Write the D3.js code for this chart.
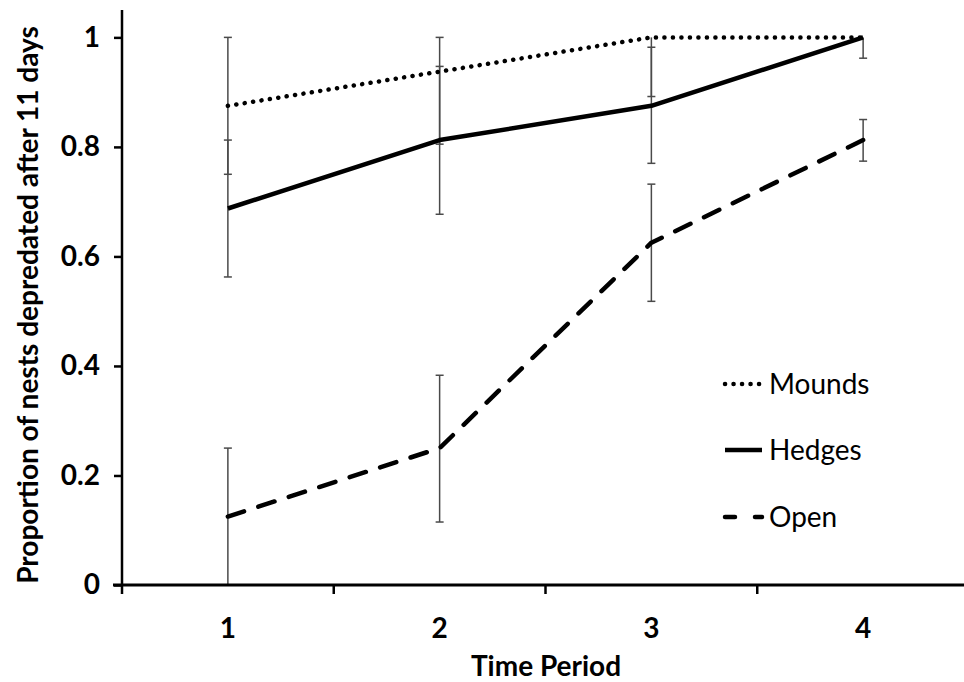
<!DOCTYPE html>
<html><head><meta charset="utf-8">
<script src="https://cdn.jsdelivr.net/npm/d3@7"></script>
<style>body{margin:0;background:#fff}svg{display:block}</style>
</head><body>
<svg id="c" width="964" height="682"></svg>
<script>
const periods = [1, 2, 3, 4];
const yTicks = [0, 0.2, 0.4, 0.6, 0.8, 1];
const seriesNames = ["Mounds", "Hedges", "Open"];
const mounds = [0.875, 0.9375, 1, 1];
const moundsLow = [0.75, 0.805, 0.892, 1];
const moundsHigh = [1, 1, 1, 1];
const hedges = [0.6875, 0.8125, 0.875, 1];
const hedgesLow = [0.5625, 0.677, 0.77, 0.962];
const hedgesHigh = [0.8125, 0.947, 0.982, 1];
const open = [0.125, 0.25, 0.625, 0.8125];
const openLow = [0, 0.115, 0.518, 0.774];
const openHigh = [0.25, 0.383, 0.732, 0.85];

const svg = d3.select("#c");
const x = d3.scaleBand().domain(periods).range([122, 969]).padding(0);
const y = d3.scaleLinear().domain([0, 1.05]).range([585, 10]);
const cx = d => x(d) + x.bandwidth() / 2;
const font = "Lato, 'Open Sans', sans-serif";

const series = [
  {name: seriesNames[0], v: mounds, lo: moundsLow, hi: moundsHigh, dash: "0.1,8.4", w: 4.5, cap: "round", off: 0},
  {name: seriesNames[1], v: hedges, lo: hedgesLow, hi: hedgesHigh, dash: null, w: 4.5, cap: "butt", off: 0},
  {name: seriesNames[2], v: open, lo: openLow, hi: openHigh, dash: "17,15", w: 4.5, cap: "round", off: 0}
];

// error bars
const eb = svg.append("g").attr("stroke", "#4a4a4a").attr("stroke-width", 1.5);
series.forEach(s => {
  periods.forEach((p, i) => {
    if (s.lo[i] === s.hi[i]) return;
    eb.append("line").attr("x1", cx(p)).attr("x2", cx(p)).attr("y1", y(s.lo[i])).attr("y2", y(s.hi[i]));
    [s.lo[i], s.hi[i]].forEach(v => {
      if (v === s.v[i]) return;
      eb.append("line").attr("x1", cx(p) - 4).attr("x2", cx(p) + 4).attr("y1", y(v)).attr("y2", y(v));
    });
  });
});

// lines
const line = d3.line().x((d, i) => cx(periods[i])).y(d => y(d));
series.forEach(s => {
  svg.append("path").datum(s.v).attr("d", line).attr("fill", "none")
    .attr("stroke", "#000").attr("stroke-width", s.w)
    .attr("stroke-linecap", s.cap).attr("stroke-linejoin", "round")
    .attr("stroke-dasharray", s.dash);
});

// axes
const yAxis = svg.append("g").attr("transform", "translate(122,0)")
  .call(d3.axisLeft(y).tickValues(yTicks).tickSize(8).tickSizeOuter(0).tickPadding(14)
    .tickFormat(d => d === 0 ? "0" : d === 1 ? "1" : d3.format(".1f")(d)));
yAxis.select(".domain").attr("d", "M0,585V10").attr("stroke", "#000").attr("stroke-width", 2.5);
yAxis.selectAll(".tick line").attr("stroke", "#000").attr("stroke-width", 2.5);
yAxis.selectAll("text").attr("font-family", font).attr("font-weight", "bold").attr("font-size", 28).attr("fill", "#000");

const xAxis = svg.append("g").attr("transform", "translate(0,585)")
  .call(d3.axisBottom(x).tickSize(0).tickPadding(33));
xAxis.select(".domain").attr("d", "M113,0H964").attr("stroke", "#000").attr("stroke-width", 3);
xAxis.selectAll("text").attr("font-family", font).attr("font-weight", "bold").attr("font-size", 28).attr("fill", "#000");
// band-edge ticks
const edges = periods.map(p => x(p));
xAxis.selectAll(".edge").data(edges).enter().append("line")
  .attr("x1", d => d).attr("x2", d => d).attr("y1", 0).attr("y2", 9)
  .attr("stroke", "#000").attr("stroke-width", 2.5);

// titles
svg.append("text").attr("x", 546).attr("y", 676).attr("text-anchor", "middle")
  .attr("font-family", font).attr("font-weight", "bold").attr("font-size", 28).text("Time Period");
svg.append("text").attr("transform", "translate(38,305) rotate(-90)").attr("text-anchor", "middle")
  .attr("font-family", font).attr("font-weight", "bold").attr("font-size", 28)
  .text("Proportion of nests depredated after 11 days");

// legend
const legY = [384, 450, 517];
series.forEach((s, i) => {
  svg.append("line").attr("x1", 725).attr("x2", 762).attr("y1", legY[i]).attr("y2", legY[i])
    .attr("stroke", "#000").attr("stroke-width", s.w).attr("stroke-linecap", s.cap)
    .attr("stroke-dasharray", i === 2 ? "10,20" : s.dash);
  svg.append("text").attr("x", 769).attr("y", legY[i] + 10).attr("font-family", font)
    .attr("font-size", 28).text(s.name);
});
</script>
</body></html>
